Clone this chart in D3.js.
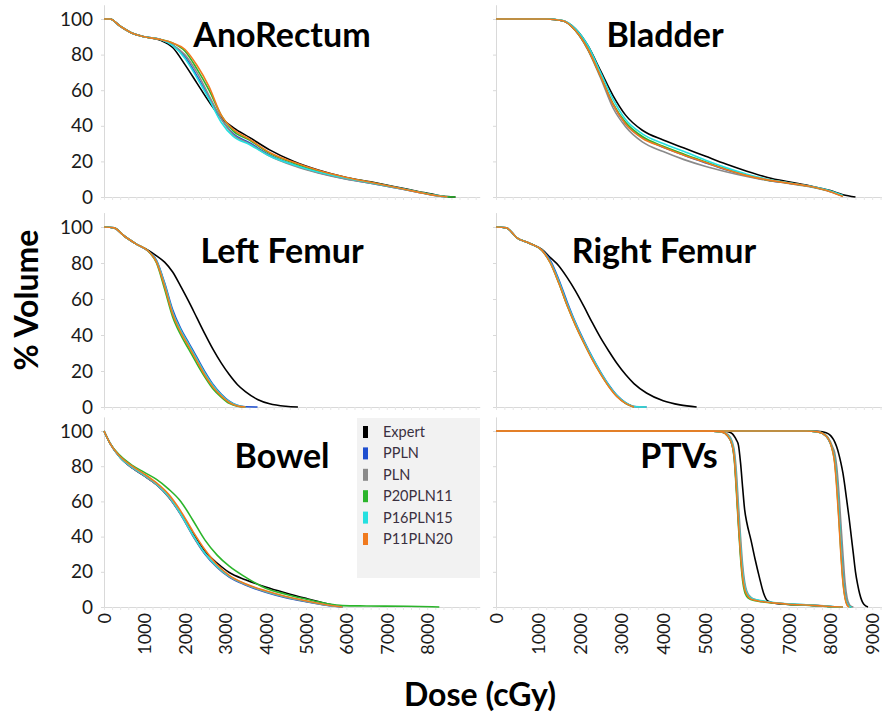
<!DOCTYPE html>
<html>
<head>
<meta charset="utf-8">
<script src="https://cdn.jsdelivr.net/npm/d3@7"></script>
<style>
  body { margin: 0; background: #fff; }
  text { font-family: Lato, "Open Sans", sans-serif; }
</style>
</head>
<body>
<svg width="882" height="712"></svg>
<script>
const seriesNames = ["Expert", "PPLN", "PLN", "P20PLN11", "P16PLN15", "P11PLN20"];
const seriesColors = ["#000000", "#1f4fd0", "#8a8a8a", "#2bb52b", "#25e0e0", "#f07a1e"];

const volumeTicks = [0, 20, 40, 60, 80, 100];
const doseTicksLeft = [0, 1000, 2000, 3000, 4000, 5000, 6000, 7000, 8000];
const doseTicksRight = [0, 1000, 2000, 3000, 4000, 5000, 6000, 7000, 8000, 9000];

// volumes are listed in the same order as seriesNames
const anoRectumDose = [0, 150, 400, 700, 1000, 1400, 1700, 2000, 2300, 2600, 2900, 3200, 3600, 4100, 4700, 5300, 6000, 6600, 7200, 7800, 8200, 8500, 8700];
const anoRectumVolume = [
  [100, 100, 96, 92, 90, 88, 84, 74.5, 64, 53.5, 44.5, 39, 33.5, 26.5, 20, 15.2, 11, 8.5, 5.8, 3, 1.2, 0.2, 0],
  [100, 100, 96, 92, 90, 88.5, 85.5, 79, 68, 56, 44, 35.5, 30.5, 23.5, 18, 13.8, 10.2, 7.8, 5.2, 2.6, 0.8, 0, null],
  [100, 100, 96, 92, 90, 88.5, 85.5, 80, 70, 57, 44, 35, 30, 23, 17.5, 13.5, 10, 7.8, 5.2, 2.6, 0.8, 0, null],
  [100, 100, 96, 92, 90, 88.5, 86.5, 82, 72, 60, 46, 37, 32, 24.5, 19, 14.5, 10.8, 8.2, 5.5, 2.8, 1, 0.1, 0],
  [100, 100, 96, 92, 90, 88.5, 85, 78, 67, 55, 42, 34, 29.5, 23, 18, 14, 10.5, 8, 5.4, 2.7, 0.9, 0, null],
  [100, 100, 96, 92, 90, 88.5, 86.5, 83, 74, 62, 46, 38, 32.5, 25, 19.5, 15, 11, 8.3, 5.5, 2.6, 0.8, 0, null],
];

const bladderDose = [0, 1200, 1600, 1900, 2200, 2500, 2800, 3100, 3500, 4000, 4500, 5000, 5500, 6000, 6500, 7000, 7500, 8000, 8300, 8600];
const bladderVolume = [
  [100, 100, 99, 94.5, 85, 71, 57, 46, 37.5, 32, 27.5, 23, 18.5, 14.5, 11, 8.5, 6.3, 3.6, 1.3, 0],
  [100, 100, 99, 93.5, 83, 68, 52, 41, 33.5, 28, 23.5, 19.3, 15.3, 12, 9.5, 7.8, 6, 3.1, 0.5, null],
  [100, 100, 99, 93.5, 82.5, 67, 50, 39.5, 31, 25.5, 21, 17.3, 14.2, 11.5, 9.3, 7.6, 5.8, 3, 0.5, null],
  [100, 100, 99, 93.5, 83, 68, 52.5, 42, 34, 28.5, 24, 19.8, 15.7, 12.2, 9.6, 7.9, 6, 3.2, 0.5, null],
  [100, 100, 99.2, 94.5, 85, 70, 55, 43.5, 35.5, 30, 25.5, 20.8, 16.5, 12.8, 10, 8, 6.1, 3.3, 0.8, null],
  [100, 100, 99, 93.5, 83, 68, 52, 41, 33, 28, 23.5, 19.5, 15.5, 12, 9.6, 7.8, 6, 3, 0.3, null],
];

const leftFemurDose = [0, 250, 500, 800, 1100, 1300, 1500, 1700, 1900, 2100, 2300, 2500, 2700, 2900, 3100, 3300, 3500, 3800, 4100, 4500, 4800];
const leftFemurVolume = [
  [100, 99.5, 95, 90.5, 87, 84, 80.5, 75, 67, 58.5, 49.5, 40.5, 32, 24.5, 18, 12.5, 8.5, 4.2, 1.8, 0.4, 0],
  [100, 99.5, 95, 90.5, 86.5, 81.5, 69, 54, 43.5, 35.5, 27.5, 19.5, 12.5, 7.2, 3.2, 0.9, 0.1, 0, null, null, null],
  [100, 99.5, 95, 90.5, 86.5, 81, 68, 52.5, 42.5, 34.5, 26.5, 18.5, 11.8, 6.7, 2.8, 0.7, 0, null, null, null, null],
  [100, 99.5, 95, 90.5, 86.5, 80, 65.5, 50, 40, 32, 24, 16.5, 10, 5.5, 2, 0.4, 0, null, null, null, null],
  [100, 99.5, 95, 90.5, 86.5, 81, 68, 52.5, 42.5, 34.5, 26.5, 18.5, 11.8, 6.8, 2.9, 0.8, 0, null, null, null, null],
  [100, 99.5, 95, 90.5, 86.5, 80.5, 67, 51.5, 41.5, 33.5, 25.5, 17.5, 11, 6.2, 2.5, 0.6, 0, null, null, null, null],
];

const rightFemurDose = [0, 250, 500, 800, 1100, 1300, 1500, 1700, 1900, 2100, 2300, 2500, 2700, 2900, 3100, 3300, 3600, 4000, 4400, 4800];
const rightFemurVolume = [
  [100, 99.5, 94, 91, 87.5, 83, 78.5, 72, 64.5, 56, 47, 38.5, 31, 24, 18, 13, 7.8, 3.5, 1.2, 0],
  [100, 99.5, 94, 91, 87.2, 81.5, 71, 58.5, 47, 37, 27.8, 19.5, 12.2, 6.3, 2.4, 0.3, 0, null, null, null],
  [100, 99.5, 94, 91, 87, 80.5, 69.5, 57, 46, 36, 27, 18.8, 11.6, 5.8, 2.1, 0.2, 0, null, null, null],
  [100, 99.5, 94, 91, 87, 80, 69, 56.5, 45.5, 35.7, 26.7, 18.6, 11.5, 5.8, 2.1, 0, null, null, null, null],
  [100, 99.5, 94, 91, 87, 80.5, 70, 57.5, 46.5, 36.5, 27.5, 19.2, 12, 6.2, 2.4, 0.3, 0, null, null, null],
  [100, 99.5, 94, 91, 87, 80, 69, 56.5, 45.5, 35.7, 26.5, 18.4, 11.3, 5.6, 2, 0, null, null, null, null],
];

const bowelDose = [0, 150, 400, 700, 1000, 1300, 1600, 1900, 2200, 2500, 2800, 3100, 3500, 4000, 4500, 5000, 5500, 5900, 6500, 7500, 8300];
const bowelVolume = [
  [100, 93, 85, 79, 74.5, 69.6, 62.5, 53, 41.7, 31.5, 25, 19.6, 15.5, 11.4, 8, 4.9, 2, 0, null, null, null],
  [100, 93, 85, 79, 74.5, 69.5, 62.5, 52.5, 40.5, 30, 22.5, 17, 12.5, 8.4, 5.3, 3, 1, 0, null, null, null],
  [100, 93, 85, 79, 74.5, 69.5, 62.5, 52.5, 40.5, 30.2, 22.7, 17.3, 12.8, 8.7, 5.6, 3.2, 1.1, 0, null, null, null],
  [100, 93, 86, 80.5, 76.5, 72.5, 67, 60, 49.3, 38, 29.5, 23.2, 17, 10.7, 7.3, 4.5, 2, 0.8, 0.6, 0.4, 0],
  [100, 93, 85, 79.5, 75, 70, 63, 53, 41, 30.5, 23, 17.5, 13, 9, 5.8, 3.4, 1.3, 0, null, null, null],
  [100, 93, 85.5, 80, 75.5, 70.5, 64, 54.5, 43, 32.5, 24, 18, 13.2, 9.2, 6, 3.5, 1.3, 0, null, null, null],
];

const ptvLowDose = [0, 5000, 5400, 5550, 5650, 5700, 5750, 5800, 5850, 5900, 5950, 6000, 6100, 6200, 6300, 6400, 6500, 6700, 7000, 7500, 7900, 8100, 8300];
const ptvLowVolume = [
  [100, 100, 100, 99.6, 98.5, 97, 95, 92, 82, 68, 55, 48, 38, 27, 17, 8, 3.5, 2, 1.5, 1, 0.4, 0.1, 0],
  [100, 100, 99.5, 97, 92, 85, 69, 49, 31, 18, 10.5, 7.5, 4.8, 4, 3.5, 3.1, 2.8, 2.2, 1.6, 1, 0.4, 0.1, 0],
  [100, 100, 99.6, 98, 94, 89, 77, 58, 40, 24, 14, 9, 5.5, 4.2, 3.6, 3.2, 2.9, 2.3, 1.7, 1.1, 0.5, 0.1, 0],
  [100, 100, 99.5, 97, 92, 84, 66, 46, 28, 15, 8.5, 6, 4.2, 3.6, 3.2, 2.9, 2.6, 2.1, 1.5, 0.9, 0.3, 0, 0],
  [100, 100, 99.5, 97.5, 93, 87, 72, 52, 34, 20, 12, 8, 5.2, 4.3, 3.8, 3.4, 3, 2.4, 1.8, 1.1, 0.5, 0.1, 0],
  [100, 100, 99.5, 97, 92, 85, 68, 48, 30, 17, 10, 7, 4.5, 3.8, 3.3, 3, 2.7, 2.2, 1.6, 1, 0.4, 0.1, 0],
];

const ptvHighDose = [0, 7400, 7700, 7900, 8000, 8050, 8100, 8150, 8200, 8250, 8300, 8350, 8400, 8450, 8500, 8550, 8600, 8650, 8700, 8800, 8900];
const ptvHighVolume = [
  [100, 100, 99.8, 99, 97.5, 96, 94, 91, 87, 82, 76, 68, 59, 50, 40, 30, 20, 13, 7.5, 1.5, 0],
  [100, 100, 99.5, 97, 93, 90, 85, 74, 58, 38, 20, 8, 2.5, 0.5, 0, null, null, null, null, null, null],
  [100, 100, 99.6, 97.5, 94, 91, 88, 80, 66, 48, 30, 14, 5, 1.5, 0.3, 0, null, null, null, null, null],
  [100, 100, 99.5, 97, 93, 89, 83, 70, 52, 32, 15, 5.5, 1.5, 0.3, 0, null, null, null, null, null, null],
  [100, 100, 99.5, 97, 93, 89.5, 84, 72, 55, 35, 17, 6.5, 2, 0.4, 0, null, null, null, null, null, null],
  [100, 100, 99.5, 97, 93, 89, 82, 68, 50, 30, 14, 5, 1, 0, null, null, null, null, null, null, null],
];

const svg = d3.select("svg");

// panel geometry (pixels)
const columns = [
  { left: 104, pxPerDose: 0.0404, maxDose: 9300, ticks: doseTicksLeft, labels: true },
  { left: 496, pxPerDose: 0.0418, maxDose: 9300, ticks: doseTicksRight, labels: false },
];
const rows = [
  { base: 197, pxPerVol: 1.78 },
  { base: 407, pxPerVol: 1.80 },
  { base: 607, pxPerVol: 1.76 },
];

const panels = [
  { title: "AnoRectum", col: 0, row: 0, tx: 282, ty: 47, curves: [[anoRectumDose, anoRectumVolume]] },
  { title: "Bladder", col: 1, row: 0, tx: 665, ty: 47, curves: [[bladderDose, bladderVolume]] },
  { title: "Left Femur", col: 0, row: 1, tx: 282, ty: 263, curves: [[leftFemurDose, leftFemurVolume]] },
  { title: "Right Femur", col: 1, row: 1, tx: 664, ty: 263, curves: [[rightFemurDose, rightFemurVolume]] },
  { title: "Bowel", col: 0, row: 2, tx: 282, ty: 468, curves: [[bowelDose, bowelVolume]] },
  { title: "PTVs", col: 1, row: 2, tx: 679, ty: 468, curves: [[ptvLowDose, ptvLowVolume], [ptvHighDose, ptvHighVolume]] },
];

const axisColor = "#d9d9d9";

panels.forEach((p) => {
  const c = columns[p.col];
  const r = rows[p.row];
  const x = d3.scaleLinear().domain([0, c.maxDose]).range([c.left, c.left + c.maxDose * c.pxPerDose]);
  const y = d3.scaleLinear().domain([0, 108]).range([r.base, r.base - 108 * r.pxPerVol]);

  const g = svg.append("g");

  // x axis with minor ticks
  const xAxis = g.append("g")
    .attr("transform", `translate(0, ${r.base})`)
    .call(d3.axisBottom(x).tickValues(d3.range(0, c.maxDose + 1, 200)).tickSize(3).tickSizeOuter(0).tickFormat(""));
  xAxis.select(".domain").attr("stroke", axisColor);
  xAxis.selectAll(".tick line").attr("stroke", "#e6e6e6");

  // y axis
  const yAxis = g.append("g")
    .attr("transform", `translate(${c.left}, 0)`)
    .call(d3.axisLeft(y).tickValues(volumeTicks).tickSize(3).tickSizeOuter(0)
      .tickFormat(c.labels ? d3.format("d") : ""));
  yAxis.select(".domain").attr("stroke", axisColor);
  yAxis.selectAll(".tick line").attr("stroke", axisColor);
  yAxis.selectAll(".tick text")
    .attr("x", -11)
    .style("font-size", "19px")
    .style("font-family", "Lato, sans-serif")
    .attr("fill", "#1a1a1a");

  // rotated dose labels on the bottom row
  if (p.row === 2) {
    const labelAxis = g.append("g")
      .attr("transform", `translate(0, ${r.base})`)
      .call(d3.axisBottom(x).tickValues(c.ticks).tickSize(0).tickFormat(d3.format("d")));
    labelAxis.select(".domain").remove();
    labelAxis.selectAll(".tick text")
      .attr("transform", "rotate(-90)")
      .attr("text-anchor", "end")
      .attr("x", -6)
      .attr("y", 0)
      .attr("dy", "0.36em")
      .style("font-size", "18px")
      .style("font-family", "Lato, sans-serif")
      .attr("fill", "#1a1a1a");
  }

  const line = d3.line()
    .defined((d) => d[1] !== null)
    .x((d) => x(d[0]))
    .y((d) => y(d[1]))
    .curve(d3.curveMonotoneX);

  seriesNames.forEach((name, si) => {
    p.curves.forEach(([dose, volume]) => {
      const pts = dose.map((dv, i) => [dv, volume[si][i]]);
      g.append("path")
        .datum(pts)
        .attr("fill", "none")
        .attr("stroke", seriesColors[si])
        .attr("stroke-width", 1.6)
        .attr("stroke-linejoin", "round")
        .attr("d", line);
    });
  });

  g.append("text")
    .attr("x", p.tx)
    .attr("y", p.ty)
    .attr("text-anchor", "middle")
    .style("font-size", "34px")
    .style("font-weight", "bold")
    .attr("fill", "#000")
    .text(p.title);
});

// legend
const legend = svg.append("g");
legend.append("rect")
  .attr("x", 357).attr("y", 418)
  .attr("width", 123).attr("height", 160)
  .attr("fill", "#f2f2f2");
seriesNames.forEach((name, i) => {
  const cy = 432 + i * 21.4;
  legend.append("rect")
    .attr("x", 363).attr("y", cy - 6)
    .attr("width", 5).attr("height", 12)
    .attr("fill", seriesColors[i]);
  legend.append("text")
    .attr("x", 383).attr("y", cy)
    .attr("dy", "0.35em")
    .style("font-size", "14.5px")
    .attr("fill", "#3a3040")
    .text(name);
});

// axis titles
svg.append("text")
  .attr("transform", "translate(38, 300) rotate(-90)")
  .attr("text-anchor", "middle")
  .style("font-size", "32px")
  .style("font-weight", "bold")
  .text("% Volume");

svg.append("text")
  .attr("x", 480)
  .attr("y", 706)
  .attr("text-anchor", "middle")
  .style("font-size", "32px")
  .style("font-weight", "bold")
  .text("Dose (cGy)");
</script>
</body>
</html>
